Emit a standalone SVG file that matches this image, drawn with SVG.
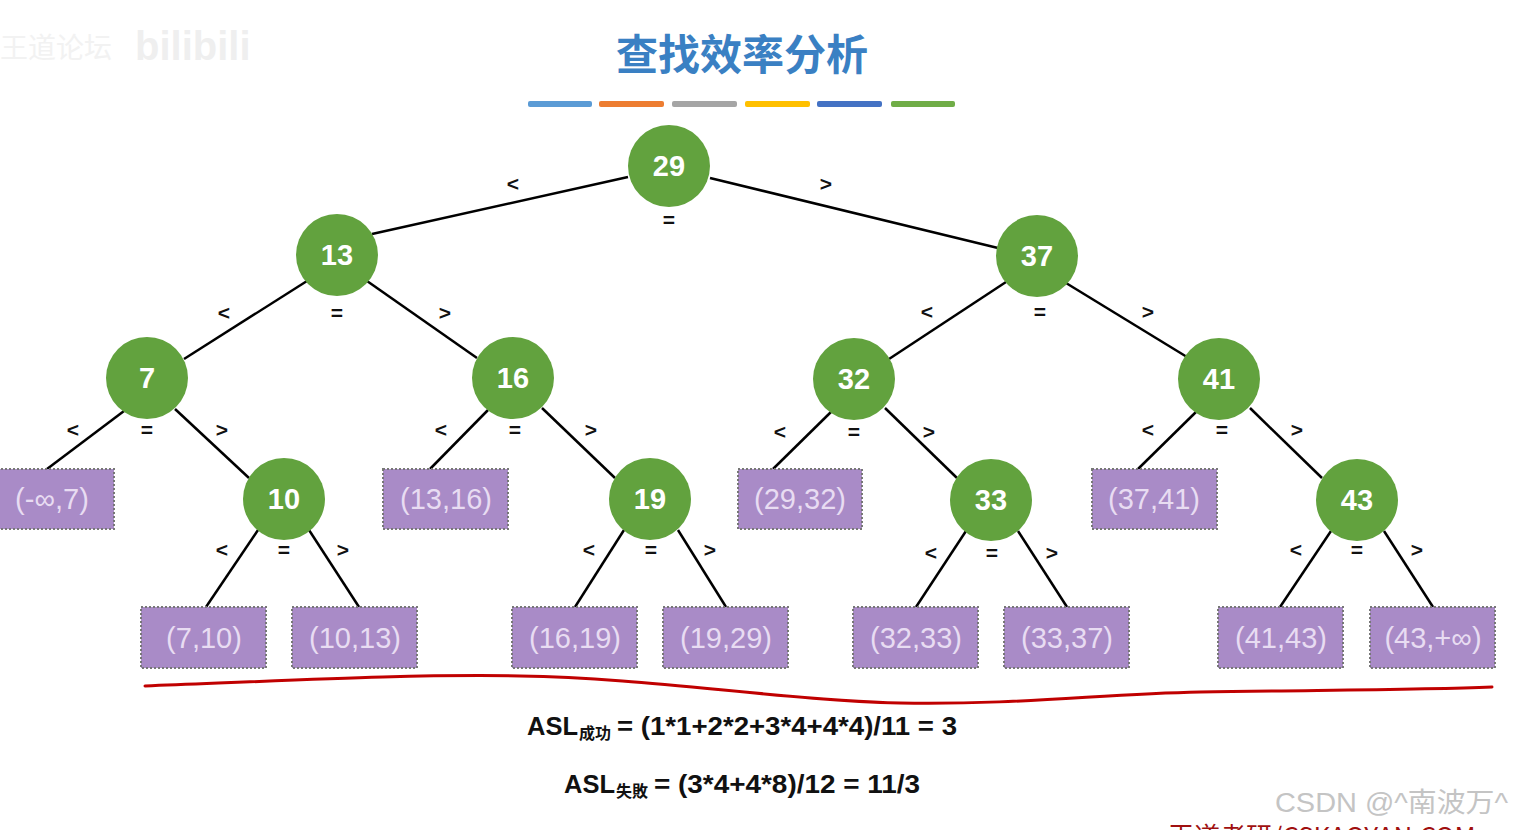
<svg xmlns="http://www.w3.org/2000/svg" width="1514" height="830" viewBox="0 0 1514 830">
<defs>
<style>
.node circle{fill:#62a23e;}
.node text{fill:#fff;font-family:"Liberation Sans",Arial,sans-serif;font-weight:bold;font-size:29px;text-anchor:middle;}
.leaf rect{fill:#a98bc7;stroke:#777;stroke-width:2;stroke-dasharray:2 2;}
.leaf text{fill:#e8dcf2;font-family:"Liberation Sans",Arial,sans-serif;font-size:29px;text-anchor:middle;}
.edges line{stroke:#000;stroke-width:2.5;}
.lbl{font-family:"Liberation Sans",Arial,sans-serif;font-weight:bold;font-size:21px;text-anchor:middle;fill:#111;}
.f{font-family:"Liberation Sans","Noto Sans CJK SC",Arial,sans-serif;font-weight:bold;font-size:25px;fill:#111;}
.sub{font-size:16px;font-family:"Noto Sans CJK SC","Noto Sans CJK TC",sans-serif;font-weight:bold;fill:#111;}
</style>
</defs>
<rect width="1514" height="830" fill="#fff"/>
<text x="0" y="58" font-family="Noto Sans CJK SC,sans-serif" font-size="28" fill="#f2f2f2">王道论坛</text>
<text x="135" y="60" font-family="Liberation Sans,sans-serif" font-weight="bold" font-size="40" fill="#efefef">bilibili</text>
<text x="742" y="70" text-anchor="middle" font-family="Noto Sans CJK SC,sans-serif" font-weight="bold" font-size="42" fill="#3a80c3">查找效率分析</text>
<g id="colorbar">
<rect x="528" y="101" width="64" height="6" rx="2" fill="#5b9bd5"/>
<rect x="599" y="101" width="65" height="6" rx="2" fill="#ed7d31"/>
<rect x="672" y="101" width="65" height="6" rx="2" fill="#a5a5a5"/>
<rect x="745" y="101" width="65" height="6" rx="2" fill="#ffc000"/>
<rect x="817" y="101" width="65" height="6" rx="2" fill="#4472c4"/>
<rect x="891" y="101" width="64" height="6" rx="2" fill="#70ad47"/>
</g>
<g id="connectors" class="edges">
<line x1="628" y1="177" x2="372" y2="234"/>
<line x1="710" y1="178" x2="998" y2="248"/>
<line x1="307" y1="281" x2="184" y2="359"/>
<line x1="367" y1="281" x2="477" y2="358"/>
<line x1="1006" y1="282" x2="889" y2="359"/>
<line x1="1066" y1="283" x2="1187" y2="357"/>
<line x1="124" y1="411" x2="47" y2="469"/>
<line x1="175" y1="409" x2="249" y2="478"/>
<line x1="488" y1="410" x2="430" y2="469"/>
<line x1="542" y1="408" x2="615" y2="478"/>
<line x1="833" y1="410" x2="773" y2="469"/>
<line x1="885" y1="408" x2="957" y2="478"/>
<line x1="1198" y1="410" x2="1138" y2="469"/>
<line x1="1250" y1="408" x2="1322" y2="478"/>
<line x1="258" y1="530" x2="206" y2="607"/>
<line x1="309" y1="530" x2="359" y2="607"/>
<line x1="624" y1="530" x2="575" y2="607"/>
<line x1="678" y1="530" x2="726" y2="607"/>
<line x1="966" y1="531" x2="916" y2="607"/>
<line x1="1018" y1="531" x2="1067" y2="607"/>
<line x1="1331" y1="531" x2="1280" y2="607"/>
<line x1="1384" y1="531" x2="1433" y2="607"/>
</g>
<g id="labels" class="lbl">
<text x="513" y="191">&lt;</text><text x="669" y="227">=</text><text x="826" y="191">&gt;</text>
<text x="224" y="320">&lt;</text><text x="337" y="320">=</text><text x="445" y="320">&gt;</text>
<text x="927" y="319">&lt;</text><text x="1040" y="319">=</text><text x="1148" y="319">&gt;</text>
<text x="73" y="437">&lt;</text><text x="147" y="437">=</text><text x="222" y="437">&gt;</text>
<text x="441" y="437">&lt;</text><text x="515" y="437">=</text><text x="591" y="437">&gt;</text>
<text x="780" y="439">&lt;</text><text x="854" y="439">=</text><text x="929" y="439">&gt;</text>
<text x="1148" y="437">&lt;</text><text x="1222" y="437">=</text><text x="1297" y="437">&gt;</text>
<text x="222" y="557">&lt;</text><text x="284" y="557">=</text><text x="343" y="557">&gt;</text>
<text x="589" y="557">&lt;</text><text x="651" y="557">=</text><text x="710" y="557">&gt;</text>
<text x="931" y="560">&lt;</text><text x="992" y="560">=</text><text x="1052" y="560">&gt;</text>
<text x="1296" y="557">&lt;</text><text x="1357" y="557">=</text><text x="1417" y="557">&gt;</text>
</g>
<g id="n29" class="node"><circle cx="669" cy="166" r="41"/><text x="669" y="176">29</text></g>
<g id="n13" class="node"><circle cx="337" cy="255" r="41"/><text x="337" y="265">13</text></g>
<g id="n37" class="node"><circle cx="1037" cy="256" r="41"/><text x="1037" y="266">37</text></g>
<g id="n7" class="node"><circle cx="147" cy="378" r="41"/><text x="147" y="388">7</text></g>
<g id="n16" class="node"><circle cx="513" cy="378" r="41"/><text x="513" y="388">16</text></g>
<g id="n32" class="node"><circle cx="854" cy="379" r="41"/><text x="854" y="389">32</text></g>
<g id="n41" class="node"><circle cx="1219" cy="379" r="41"/><text x="1219" y="389">41</text></g>
<g id="n10" class="node"><circle cx="284" cy="499" r="41"/><text x="284" y="509">10</text></g>
<g id="n19" class="node"><circle cx="650" cy="499" r="41"/><text x="650" y="509">19</text></g>
<g id="n33" class="node"><circle cx="991" cy="500" r="41"/><text x="991" y="510">33</text></g>
<g id="n43" class="node"><circle cx="1357" cy="500" r="41"/><text x="1357" y="510">43</text></g>
<g id="l1" class="leaf"><rect x="-11" y="469" width="125" height="60"/><text x="52" y="509">(-∞,7)</text></g>
<g id="l2" class="leaf"><rect x="383" y="469" width="125" height="60"/><text x="446" y="509">(13,16)</text></g>
<g id="l3" class="leaf"><rect x="738" y="469" width="124" height="60"/><text x="800" y="509">(29,32)</text></g>
<g id="l4" class="leaf"><rect x="1092" y="469" width="125" height="60"/><text x="1154" y="509">(37,41)</text></g>
<g id="l5" class="leaf"><rect x="141" y="607" width="125" height="61"/><text x="204" y="648">(7,10)</text></g>
<g id="l6" class="leaf"><rect x="292" y="607" width="125" height="61"/><text x="355" y="648">(10,13)</text></g>
<g id="l7" class="leaf"><rect x="512" y="607" width="125" height="61"/><text x="575" y="648">(16,19)</text></g>
<g id="l8" class="leaf"><rect x="663" y="607" width="125" height="61"/><text x="726" y="648">(19,29)</text></g>
<g id="l9" class="leaf"><rect x="853" y="607" width="125" height="61"/><text x="916" y="648">(32,33)</text></g>
<g id="l10" class="leaf"><rect x="1004" y="607" width="125" height="61"/><text x="1067" y="648">(33,37)</text></g>
<g id="l11" class="leaf"><rect x="1218" y="607" width="125" height="61"/><text x="1281" y="648">(41,43)</text></g>
<g id="l12" class="leaf"><rect x="1370" y="607" width="125" height="61"/><text x="1433" y="648">(43,+∞)</text></g>
<path d="M145,686 C300,680 420,674 520,676 C650,678 780,700 900,703 C1020,705 1100,694 1200,692 C1320,690 1420,690 1492,687" fill="none" stroke="#c00000" stroke-width="3" stroke-linecap="round"/>
<g id="formula1">
<text class="f" x="527" y="735" textLength="51" lengthAdjust="spacingAndGlyphs">ASL</text>
<text class="sub" x="579" y="739">成功</text>
<text class="f" x="617" y="735" textLength="340" lengthAdjust="spacingAndGlyphs">= (1*1+2*2+3*4+4*4)/11 = 3</text>
</g>
<g id="formula2">
<text class="f" x="564" y="793" textLength="51" lengthAdjust="spacingAndGlyphs">ASL</text>
<text class="sub" x="616" y="797">失敗</text>
<text class="f" x="654" y="793" textLength="266" lengthAdjust="spacingAndGlyphs">= (3*4+4*8)/12 = 11/3</text>
</g>
<text x="1275" y="812" font-family="Liberation Sans,Noto Sans CJK SC,sans-serif" font-size="27" fill="#c4c4c4" textLength="233" lengthAdjust="spacingAndGlyphs">CSDN @^南波万^</text>
<text x="1168" y="846" font-family="Noto Sans CJK SC,sans-serif" font-size="26" fill="#a01010">王道考研/CSKAOYAN.COM</text>
</svg>
